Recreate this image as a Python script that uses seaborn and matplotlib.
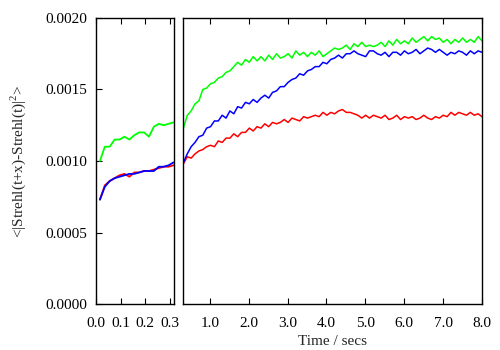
import numpy as np
import pandas as pd
import matplotlib
matplotlib.use('Agg')
import matplotlib.pyplot as plt
import seaborn as sns

# short lags (left panel), values in units of 1e-4
t_short = [0.016, 0.036, 0.056, 0.076, 0.096, 0.116, 0.136, 0.156,
           0.176, 0.196, 0.216, 0.236, 0.256, 0.276, 0.296, 0.316]
red_short = [7.3, 8.3, 8.6, 8.8, 9.0, 9.1, 8.9, 9.2, 9.2, 9.3, 9.3, 9.4, 9.5, 9.6, 9.6, 9.7]
green_short = [10.0, 11.0, 11.0, 11.5, 11.5, 11.7, 11.5, 11.8, 12.0, 12.0, 11.7, 12.4, 12.6, 12.5, 12.6, 12.7]
blue_short = [7.3, 8.2, 8.6, 8.8, 8.9, 9.0, 9.1, 9.1, 9.2, 9.3, 9.3, 9.3, 9.6, 9.6, 9.7, 9.9]

# long lags (right panel), values in units of 1e-4
t_long = np.linspace(0.32, 8.0, 78)
green_long = [12.3, 13.2, 13.5, 14.0, 14.2, 15.0, 15.1, 15.4, 15.5, 15.8,
              15.9, 16.2, 16.3, 16.6, 16.9, 16.7, 17.1, 16.9, 17.3, 17.0,
              17.3, 17.0, 17.4, 17.1, 17.5, 17.2, 17.3, 17.5, 17.2, 17.7,
              17.4, 17.6, 17.3, 17.6, 17.4, 17.7, 17.3, 17.5, 17.7, 17.9,
              17.8, 17.9, 18.1, 17.8, 18.2, 18.0, 18.3, 18.0, 18.1, 18.0,
              18.1, 18.3, 18.0, 18.4, 18.1, 18.5, 18.2, 18.4, 18.2, 18.6,
              18.3, 18.5, 18.7, 18.4, 18.7, 18.5, 18.6, 18.3, 18.5, 18.2,
              18.5, 18.3, 18.6, 18.3, 18.5, 18.3, 18.7, 18.4]
blue_long = [9.9, 10.5, 11.0, 11.3, 11.7, 11.8, 12.3, 12.4, 12.8, 12.8,
             13.2, 13.0, 13.5, 13.3, 13.8, 13.7, 14.1, 14.0, 14.3, 14.1,
             14.4, 14.6, 14.4, 14.8, 14.9, 15.2, 15.2, 15.5, 15.7, 15.8,
             16.1, 16.0, 16.3, 16.4, 16.6, 16.6, 16.9, 16.8, 17.1, 17.2,
             17.4, 17.2, 17.5, 17.5, 17.7, 17.5, 17.4, 17.3, 17.7, 17.7,
             17.5, 17.4, 17.6, 17.3, 17.6, 17.6, 17.4, 17.7, 17.5, 17.6,
             17.8, 17.5, 17.7, 17.9, 17.8, 17.6, 17.8, 17.6, 17.4, 17.6,
             17.5, 17.7, 17.6, 17.4, 17.7, 17.5, 17.7, 17.6]
red_long = [9.8, 10.3, 10.2, 10.5, 10.7, 10.8, 11.0, 11.1, 11.0, 11.4,
            11.3, 11.6, 11.6, 11.9, 11.7, 12.0, 12.0, 12.3, 12.1, 12.4,
            12.3, 12.6, 12.4, 12.7, 12.6, 12.7, 12.9, 12.7, 13.0, 12.9,
            12.8, 13.1, 13.0, 13.1, 13.2, 13.1, 13.4, 13.2, 13.4, 13.3,
            13.5, 13.6, 13.4, 13.4, 13.3, 13.2, 13.0, 13.2, 13.0, 13.2,
            13.1, 13.0, 13.2, 12.9, 13.0, 13.2, 12.9, 13.1, 13.0, 13.1,
            12.9, 13.0, 13.2, 13.0, 12.9, 13.1, 13.0, 13.2, 13.1, 13.4,
            13.2, 13.4, 13.3, 13.2, 13.4, 13.2, 13.3, 13.1]

colors = {'red': '#ff0000', 'green': '#00ff00', 'blue': '#0000ff'}

sns.set_style('ticks')
plt.rcParams['font.family'] = ['Liberation Serif', 'DejaVu Serif']
plt.rcParams['mathtext.fontset'] = 'custom'
plt.rcParams['mathtext.rm'] = 'Liberation Serif'
plt.rcParams['font.size'] = 11

fig = plt.figure(figsize=(5, 3.5), dpi=100)
ax1 = fig.add_axes([0.192, 0.1314, 0.156, 0.8172])
ax2 = fig.add_axes([0.366, 0.1314, 0.598, 0.8172])

for name, vals in [('red', red_short), ('green', green_short), ('blue', blue_short)]:
    sns.lineplot(x=t_short, y=np.array(vals) * 1e-4, ax=ax1, color=colors[name], lw=1.3)
for name, vals in [('red', red_long), ('green', green_long), ('blue', blue_long)]:
    sns.lineplot(x=t_long, y=np.array(vals) * 1e-4, ax=ax2, color=colors[name], lw=1.1)

ax1.set_xlim(0, 0.318)
ax2.set_xlim(0.31, 8.0)
for ax in (ax1, ax2):
    ax.set_ylim(0, 0.002)
    for s in ax.spines.values():
        s.set_visible(True)
        s.set_linewidth(1.0)
        s.set_color('black')
    ax.tick_params(direction='in', length=4, width=0.8, colors='black',
                   labelsize=11, top=True)
    ax.tick_params(axis='x', pad=9)
    ax.tick_params(axis='y', pad=6.5)

ax1.set_xticks([0.0, 0.1, 0.2, 0.3])
ax1.set_xticklabels(['0.0', '0.1', '0.2', '0.3'])
ax1.set_yticks([0, 0.0005, 0.001, 0.0015, 0.002])
ax1.set_yticklabels(['0.0000', '0.0005', '0.0010', '0.0015', '0.0020'])
ax1.tick_params(axis='y', right=False)

ax2.set_xticks([1, 2, 3, 4, 5, 6, 7, 8])
ax2.set_xticklabels(['1.0', '2.0', '3.0', '4.0', '5.0', '6.0', '7.0', '8.0'])
ax2.tick_params(axis='y', left=False, right=False, labelleft=False)

ax1.set_ylabel(r'<|Strehl(t+x)-Strehl(t)|$^2$>', fontsize=11, labelpad=12)
ax2.set_xlabel('Time / secs', fontsize=11, labelpad=4)

plt.savefig('out.png', dpi=100)
